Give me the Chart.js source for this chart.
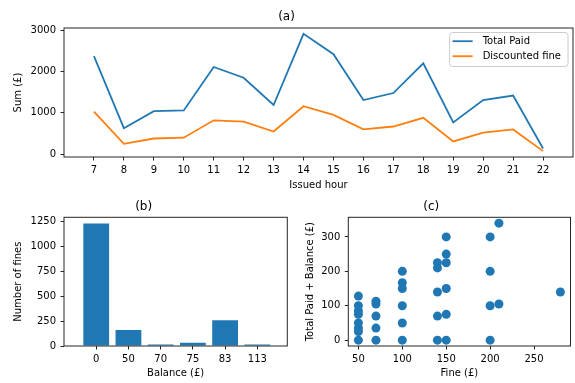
<!DOCTYPE html>
<html>
<head>
<meta charset="utf-8">
<script src="https://cdn.jsdelivr.net/npm/chart.js@4.4.0/dist/chart.umd.min.js"></script>
<style>
  html, body { margin: 0; padding: 0; background: #fff; }
  body { width: 575px; height: 383px; position: relative; overflow: hidden; }
  .box { position: absolute; }
</style>
</head>
<body>
<div class="box" style="left:0;top:0;width:575px;height:195px"><canvas id="chart-a"></canvas></div>
<div class="box" style="left:0;top:195px;width:290px;height:188px"><canvas id="chart-b"></canvas></div>
<div class="box" style="left:290px;top:195px;width:285px;height:188px"><canvas id="chart-c"></canvas></div>
<script>
// (a) sums per issued hour
const hours = [7, 8, 9, 10, 11, 12, 13, 14, 15, 16, 17, 18, 19, 20, 21, 22];
const totalPaid = [2370, 630, 1040, 1060, 2110, 1850, 1190, 2910, 2420, 1310, 1480, 2200, 770, 1310, 1420, 140];
const discountedFine = [1030, 250, 380, 400, 820, 790, 550, 1160, 950, 600, 670, 880, 310, 520, 600, 75];
const sumTicks = [0, 1000, 2000, 3000];

// (b) number of fines per balance
const balanceLabels = ['0', '50', '70', '75', '83', '113'];
const fineCounts = [1228, 160, 14, 33, 257, 14];
const countTicks = [0, 250, 500, 750, 1000, 1250];

// (c) fine vs total paid + balance
const fineAmounts = [50, 50, 50, 50, 50, 50, 50, 50,
    70, 70, 70, 70, 70,
    100, 100, 100, 100, 100, 100,
    140, 140, 140, 140, 140,
    150, 150, 150, 150, 150, 150,
    200, 200, 200, 200,
    210, 210,
    280];
const paidPlusBalance = [0, 25, 35, 50, 75, 85, 100, 128,
    0, 35, 70, 105, 113,
    0, 50, 100, 150, 167, 200,
    0, 70, 140, 210, 225,
    0, 75, 150, 225, 250, 300,
    0, 100, 200, 300,
    105, 340,
    140];
const fineTicks = [50, 100, 150, 200, 250];
const paidTicks = [0, 100, 200, 300];

const BLUE = '#1f77b4';
const ORANGE = '#ff7f0e';

Chart.defaults.font.family = "'DejaVu Sans', sans-serif";
Chart.defaults.font.size = 10;
Chart.defaults.color = '#000';

// matplotlib-like box around the plot area
const framePlugin = {
    id: 'frame',
    afterDraw(chart) {
        const a = chart.chartArea;
        const ctx = chart.ctx;
        ctx.save();
        ctx.strokeStyle = '#262626';
        ctx.lineWidth = 1;
        ctx.strokeRect(a.left, a.top, a.right - a.left, a.bottom - a.top);
        ctx.restore();
    }
};

// legend drawn inside the plot, upper right
const innerLegend = {
    id: 'innerLegend',
    afterDraw(chart) {
        const a = chart.chartArea;
        const ctx = chart.ctx;
        const sets = chart.data.datasets;
        ctx.save();
        ctx.font = "10px 'DejaVu Sans', sans-serif";
        let textW = 0;
        sets.forEach(ds => { textW = Math.max(textW, ctx.measureText(ds.label).width); });
        const w = textW + 40;
        const h = 34;
        const x = a.right - 5 - w;
        const y = a.top + 4.5;
        ctx.beginPath();
        ctx.roundRect(x, y, w, h, 3);
        ctx.fillStyle = 'rgba(255,255,255,0.8)';
        ctx.fill();
        ctx.strokeStyle = '#cccccc';
        ctx.lineWidth = 1;
        ctx.stroke();
        sets.forEach((ds, i) => {
            const ly = y + 8.7 + i * 15;
            ctx.beginPath();
            ctx.moveTo(x + 3, ly);
            ctx.lineTo(x + 23, ly);
            ctx.strokeStyle = ds.borderColor;
            ctx.lineWidth = 1.8;
            ctx.stroke();
            ctx.fillStyle = '#000';
            ctx.textBaseline = 'middle';
            ctx.fillText(ds.label, x + 33, ly);
        });
        ctx.restore();
    }
};

function makeAxis(min, max, tickValues, title, opts) {
    return {
        type: 'linear',
        min: min,
        max: max,
        offset: false,
        afterBuildTicks: s => { s.ticks = tickValues.map(v => ({ value: v })); },
        afterFit: opts.fit,
        border: { display: false },
        grid: {
            offset: false,
            drawOnChartArea: false,
            drawTicks: true,
            tickLength: 3.5,
            color: '#262626',
            lineWidth: 1
        },
        ticks: {
            padding: opts.tickPad,
            maxRotation: 0,
            autoSkip: false,
            callback: opts.label || (v => String(v))
        },
        title: {
            display: true,
            text: title,
            padding: opts.titlePad
        }
    };
}

function plotTitle(text, areaTop) {
    return {
        display: true,
        text: text,
        font: { size: 12, weight: 'normal', lineHeight: 1.2 },
        color: '#000',
        padding: { top: areaTop - 14.4 - 3.7, bottom: 3.7 }
    };
}

// (a)
new Chart(document.getElementById('chart-a').getContext('2d'), {
    type: 'line',
    data: {
        datasets: [
            {
                label: 'Total Paid',
                data: hours.map((h, i) => ({ x: h, y: totalPaid[i] })),
                borderColor: BLUE,
                backgroundColor: BLUE,
                borderWidth: 1.8,
                pointRadius: 0,
                tension: 0
            },
            {
                label: 'Discounted fine',
                data: hours.map((h, i) => ({ x: h, y: discountedFine[i] })),
                borderColor: ORANGE,
                backgroundColor: ORANGE,
                borderWidth: 1.8,
                pointRadius: 0,
                tension: 0
            }
        ]
    },
    options: {
        responsive: true,
        maintainAspectRatio: false,
        animation: false,
        layout: { padding: { left: 0, top: 0, right: 2, bottom: 0 } },
        scales: {
            x: makeAxis(6, 23, hours, 'Issued hour', {
                fit: s => { s.height = 38; }, tickPad: 3.5, titlePad: { top: 4, bottom: 4 }
            }),
            y: makeAxis(-67, 3052, sumTicks, 'Sum (£)', {
                fit: s => { s.width = 64; }, tickPad: 4.5, titlePad: { top: 12, bottom: 0 }
            })
        },
        plugins: {
            legend: { display: false },
            tooltip: { enabled: false },
            title: plotTitle('(a)', 28)
        }
    },
    plugins: [framePlugin, innerLegend]
});

// (b)
new Chart(document.getElementById('chart-b').getContext('2d'), {
    type: 'bar',
    data: {
        datasets: [{
            label: 'Number of fines',
            data: fineCounts.map((c, i) => ({ x: i, y: c })),
            backgroundColor: BLUE,
            borderWidth: 0,
            barPercentage: 0.8,
            categoryPercentage: 1
        }]
    },
    options: {
        responsive: true,
        maintainAspectRatio: false,
        animation: false,
        layout: { padding: { left: 0, top: 0, right: 2.7, bottom: 0 } },
        scales: {
            x: makeAxis(-1, 5.93, balanceLabels.map((_, i) => i), 'Balance (£)', {
                fit: s => { s.height = 37; }, tickPad: 3.5, titlePad: { top: 4, bottom: 4 },
                label: v => balanceLabels[v]
            }),
            y: makeAxis(0, 1289, countTicks, 'Number of fines', {
                fit: s => { s.width = 64; }, tickPad: 4.5, titlePad: { top: 12, bottom: 0 }
            })
        },
        plugins: {
            legend: { display: false },
            tooltip: { enabled: false },
            title: plotTitle('(b)', 22.3)
        }
    },
    plugins: [framePlugin]
});

// (c)
new Chart(document.getElementById('chart-c').getContext('2d'), {
    type: 'scatter',
    data: {
        datasets: [{
            label: 'Total Paid + Balance',
            data: fineAmounts.map((f, i) => ({ x: f, y: paidPlusBalance[i] })),
            backgroundColor: BLUE,
            borderWidth: 0,
            pointRadius: 4.5
        }]
    },
    options: {
        responsive: true,
        maintainAspectRatio: false,
        animation: false,
        layout: { padding: { left: 0, top: 0, right: 2.5, bottom: 0 } },
        scales: {
            x: makeAxis(38.5, 291.5, fineTicks, 'Fine (£)', {
                fit: s => { s.height = 37; }, tickPad: 3.5, titlePad: { top: 4, bottom: 4 }
            }),
            y: makeAxis(-17, 357, paidTicks, 'Total Paid + Balance (£)', {
                fit: s => { s.width = 58.3; }, tickPad: 4.5, titlePad: { top: 14, bottom: 0 }
            })
        },
        plugins: {
            legend: { display: false },
            tooltip: { enabled: false },
            title: plotTitle('(c)', 22.3)
        }
    },
    plugins: [framePlugin]
});
</script>
</body>
</html>
